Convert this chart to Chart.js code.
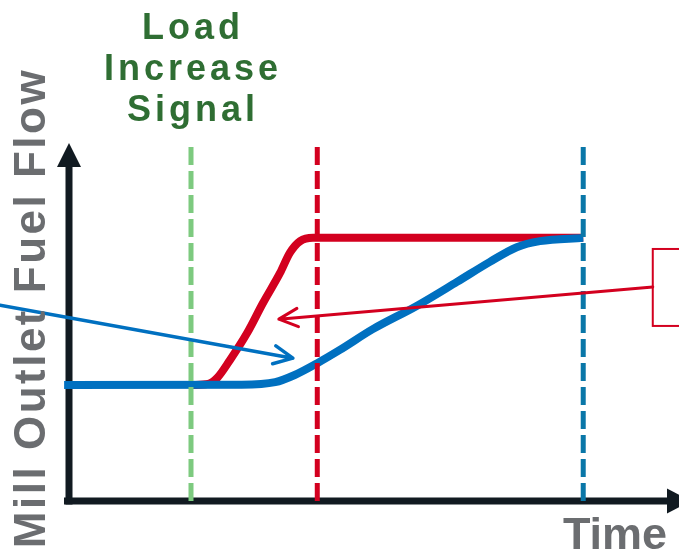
<!DOCTYPE html>
<html>
<head>
<meta charset="utf-8">
<script src="https://cdn.jsdelivr.net/npm/chart.js@4/dist/chart.umd.min.js"></script>
<style>
    html, body { margin: 0; padding: 0; background: #ffffff; }
    #chartWrapper { width: 679px; height: 553px; }
</style>
</head>
<body>
<div id="chartWrapper"><canvas id="fuelChart"></canvas></div>
<script>
// time axis 0..100, flow axis 0..100 (no ticks shown)
let blueTime = [-0.8, 28.0, 33.8, 37.0, 40.7, 44.4, 49.8, 57.0, 63.6, 69.0, 73.4, 77.2, 84.3]
let blueFlow = [32.4, 32.5, 33.2, 35.2, 38.5, 42.2, 48.0, 54.5, 61.2, 66.8, 70.9, 72.6, 73.5]
let redTime = [20.2, 22.8, 24.3, 26.4, 29.2, 31.8, 34.6, 36.2, 37.9, 40.0, 84.3]
let redFlow = [32.4, 32.7, 34.4, 39.4, 46.9, 55.3, 63.7, 69.3, 72.6, 73.5, 73.5]

// vertical event markers
let markerTime = [20.0, 40.7, 84.3]
let markerColors = ['#7dca7f', '#d3001f', '#0a77a8']
let markerTop = 98.9

// annotation arrows [fromX, fromY, toX, toY]
let blueArrow = [-11.3, 54.7, 36.7, 39.9]
let redArrow = [95.7, 59.8, 34.4, 50.8]
let redBox = [95.7, 70.4, 115, 48.9]

let titleLines = ['Load', 'Increase', 'Signal']
let yLabel = 'Mill Outlet Fuel Flow'
let xLabel = 'Time'

function toPoints(xs, ys) {
    return xs.map((x, i) => ({ x: x, y: ys[i] }))
}

let markerSets = markerTime.map((t, i) => ({
    data: [{ x: t, y: markerTop }, { x: t, y: 0 }],
    borderColor: markerColors[i],
    borderWidth: 5,
    borderDash: [18, 6],
    pointRadius: 0,
    tension: 0,
    order: 0,
}))

// arrow helper
function drawArrow(ctx, x1, y1, x2, y2, color, width) {
    let ang = Math.atan2(y2 - y1, x2 - x1)
    let len = 21, spread = 0.45
    ctx.save()
    ctx.strokeStyle = color
    ctx.lineWidth = width
    ctx.lineCap = 'round'
    ctx.lineJoin = 'round'
    ctx.beginPath()
    ctx.moveTo(x1, y1)
    ctx.lineTo(x2, y2)
    ctx.moveTo(x2 - len * Math.cos(ang - spread), y2 - len * Math.sin(ang - spread))
    ctx.lineTo(x2, y2)
    ctx.lineTo(x2 - len * Math.cos(ang + spread), y2 - len * Math.sin(ang + spread))
    ctx.stroke()
    ctx.restore()
}

let axesPlugin = {
    id: 'axesPlugin',
    beforeDatasetsDraw(chart) {
        let ctx = chart.ctx
        let a = chart.chartArea
        let left = a.left, bottom = a.bottom
        ctx.save()
        ctx.strokeStyle = '#111a21'
        ctx.fillStyle = '#111a21'
        ctx.lineWidth = 7
        // y axis
        ctx.beginPath()
        ctx.moveTo(left, bottom + 3.5)
        ctx.lineTo(left, a.top + 22)
        ctx.stroke()
        ctx.beginPath()
        ctx.moveTo(left, a.top)
        ctx.lineTo(left - 12, a.top + 24)
        ctx.lineTo(left + 12, a.top + 24)
        ctx.closePath()
        ctx.fill()
        // x axis
        ctx.beginPath()
        ctx.moveTo(left - 5, bottom)
        ctx.lineTo(a.right - 10, bottom)
        ctx.stroke()
        ctx.beginPath()
        ctx.moveTo(a.right + 12, bottom)
        ctx.lineTo(a.right - 12, bottom - 12.5)
        ctx.lineTo(a.right - 12, bottom + 12.5)
        ctx.closePath()
        ctx.fill()
        ctx.restore()
    },
    afterDatasetsDraw(chart) {
        let ctx = chart.ctx
        let xs = chart.scales.x, ys = chart.scales.y
        let px = v => xs.getPixelForValue(v)
        let py = v => ys.getPixelForValue(v)

        drawArrow(ctx, px(blueArrow[0]), py(blueArrow[1]), px(blueArrow[2]), py(blueArrow[3]), '#0070c0', 3.5)
        drawArrow(ctx, px(redArrow[0]), py(redArrow[1]), px(redArrow[2]), py(redArrow[3]), '#d3001f', 3)

        ctx.save()
        ctx.strokeStyle = '#d3001f'
        ctx.lineWidth = 2
        ctx.strokeRect(px(redBox[0]), py(redBox[1]), px(redBox[2]) - px(redBox[0]), py(redBox[3]) - py(redBox[1]))
        ctx.restore()
    },
    afterDraw(chart) {
        let ctx = chart.ctx
        let xs = chart.scales.x
        ctx.save()
        // title over the green marker
        ctx.fillStyle = '#2f6e33'
        ctx.font = 'bold 36px "Liberation Sans", Arial, sans-serif'
        ctx.letterSpacing = '4px'
        ctx.textAlign = 'center'
        ctx.textBaseline = 'alphabetic'
        let cx = xs.getPixelForValue(markerTime[0]) + 2
        titleLines.forEach((t, i) => ctx.fillText(t, cx, 39 + i * 41))

        // axis labels
        ctx.fillStyle = '#6b6d70'
        ctx.font = 'bold 45px "Liberation Sans", Arial, sans-serif'
        ctx.letterSpacing = '0px'
        ctx.fillText(xLabel, 615, 549)

        ctx.translate(45, 308)
        ctx.rotate(-Math.PI / 2)
        ctx.font = 'bold 44px "Liberation Sans", Arial, sans-serif'
        ctx.letterSpacing = '2.5px'
        ctx.fillText(yLabel, 0, 0)
        ctx.restore()
    }
}

function loadFuelChart() {
    let ctx = document.getElementById('fuelChart')
    new Chart(ctx, {
        type: 'line',
        data: {
            datasets: [
                ...markerSets,
                {
                    data: toPoints(blueTime, blueFlow),
                    borderColor: '#0070c0',
                    borderWidth: 8,
                    pointRadius: 0,
                    cubicInterpolationMode: 'monotone',
                    clip: false,
                    order: 1,
                },
                {
                    data: toPoints(redTime, redFlow),
                    borderColor: '#d3001f',
                    borderWidth: 8,
                    pointRadius: 0,
                    cubicInterpolationMode: 'monotone',
                    clip: false,
                    order: 2,
                },
            ]
        },
        options: {
            responsive: true,
            maintainAspectRatio: false,
            animation: false,
            layout: {
                padding: { left: 69, right: 0, top: 143, bottom: 52 }
            },
            plugins: {
                legend: { display: false },
                tooltip: { enabled: false },
            },
            scales: {
                x: { type: 'linear', min: 0, max: 100, display: false },
                y: { type: 'linear', min: 0, max: 100, display: false },
            },
        },
        plugins: [axesPlugin]
    })
}

loadFuelChart()
</script>
</body>
</html>
